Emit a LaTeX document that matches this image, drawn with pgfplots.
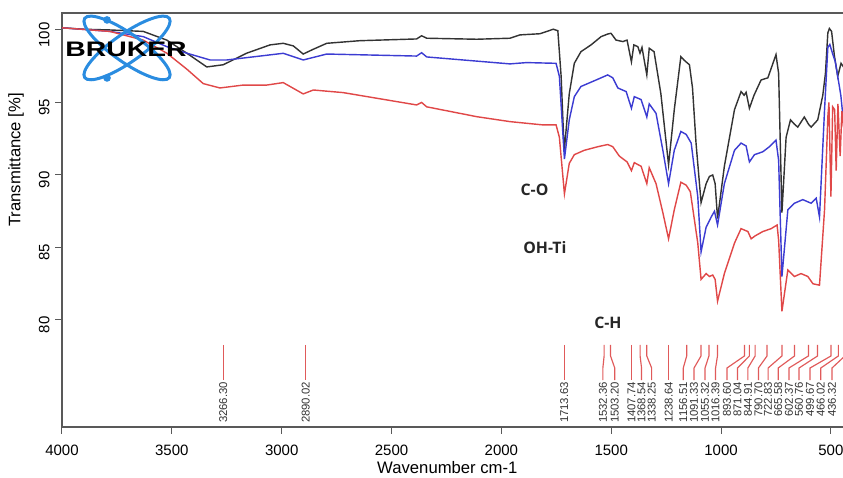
\documentclass[border=0pt]{standalone}
\usepackage{fontspec}
\setmainfont{Liberation Sans}
\newfontfamily\annfont{Open Sans}
\usepackage{pgfplots}
\usepackage{pgfplotstable}
\pgfplotsset{compat=1.18}
\usetikzlibrary{calc}

\definecolor{curveblack}{HTML}{333333}
\definecolor{curveblue}{HTML}{3C3CD2}
\definecolor{curvered}{HTML}{E04848}
\definecolor{peakred}{HTML}{E05A5A}
\definecolor{logoblue}{HTML}{2A8CE0}

% wavenumber (cm-1), transmittance (%)
\pgfplotstableread{
w T
4000 100.15
3900 100.05
3782 100.00
3630 99.90
3523 99.30
3432 98.40
3341 97.45
3266 97.60
3159 98.40
3053 98.97
2993 99.08
2947 98.90
2902 98.34
2856 98.67
2795 99.08
2644 99.26
2386 99.38
2363 99.60
2340 99.43
2112 99.36
1961 99.43
1915 99.66
1824 99.74
1764 100.05
1743 99.95
1728 96.80
1714 91.60
1691 95.60
1668 97.70
1638 98.50
1592 98.97
1546 99.54
1516 99.72
1501 99.77
1478 99.30
1447 99.20
1428 99.30
1408 97.80
1397 98.97
1379 98.85
1369 98.40
1360 98.80
1338 96.90
1327 98.74
1305 98.50
1274 95.60
1239 90.70
1213 94.50
1183 98.16
1167 97.90
1144 97.60
1130 96.00
1114 92.20
1091 88.10
1068 89.40
1053 89.90
1038 90.00
1027 89.40
1016 87.00
985 90.60
939 94.50
909 95.75
895 95.50
886 95.70
871 94.60
850 95.50
818 96.55
787 96.70
750 98.30
738 97.00
723 87.40
704 92.60
684 93.80
666 93.50
651 93.30
621 94.00
602 93.50
590 93.30
560 93.80
537 95.50
525 97.00
514 99.80
507 100.10
497 99.90
484 98.20
469 96.80
454 97.70
445 97.50
435 97.30
}\blacktable

\pgfplotstableread{
w T
4000 100.15
3782 99.90
3630 99.54
3523 98.85
3432 98.40
3326 97.93
3250 97.93
3099 98.20
2993 98.39
2902 97.93
2795 98.34
2386 98.20
2363 98.43
2340 98.14
1961 97.66
1885 97.75
1751 97.70
1736 96.80
1713 91.10
1691 93.80
1668 95.40
1638 96.10
1592 96.40
1546 96.70
1516 96.90
1493 96.70
1470 96.00
1432 95.75
1408 94.60
1395 95.40
1364 95.20
1338 94.00
1327 94.90
1296 94.25
1265 91.70
1239 89.40
1213 91.70
1183 93.00
1159 92.80
1136 92.20
1106 88.50
1091 84.70
1068 86.40
1045 87.10
1030 87.50
1016 86.55
985 89.40
939 91.70
909 92.20
886 92.00
871 90.90
848 91.40
810 91.60
780 91.95
750 92.40
738 91.00
723 83.00
696 87.60
666 88.05
628 88.30
590 88.05
567 88.40
552 87.10
529 94.50
514 98.80
505 99.00
491 98.30
480 97.80
469 96.80
455 95.50
445 94.00
435 93.50
}\bluetable

\pgfplotstableread{
w T
4000 100.15
3782 99.90
3630 99.30
3523 98.40
3432 97.30
3357 96.30
3281 96.00
3175 96.20
3068 96.20
2993 96.37
2902 95.59
2856 95.86
2720 95.68
2386 94.83
2363 95.00
2340 94.70
2112 94.02
1961 93.68
1809 93.45
1751 93.45
1736 92.60
1713 88.70
1691 90.80
1668 91.40
1623 91.70
1561 91.95
1516 92.10
1493 91.95
1463 91.30
1428 90.90
1408 90.30
1395 90.85
1364 90.60
1338 89.40
1327 90.50
1296 89.40
1265 87.40
1239 85.60
1213 87.60
1183 89.50
1159 89.30
1140 88.85
1106 85.30
1091 82.80
1068 83.20
1053 83.00
1038 83.10
1027 82.80
1016 81.30
985 83.20
939 85.30
909 86.30
878 86.10
863 85.60
845 85.80
810 86.10
772 86.30
745 86.55
738 85.50
723 80.60
696 83.45
666 83.00
636 83.20
605 83.00
582 82.50
552 82.40
529 87.60
514 94.00
509 95.00
500 88.50
492 94.70
483 94.50
476 90.30
468 94.90
458 91.30
450 94.40
440 93.00
435 93.50
}\redtable

% peak marker: peak position, label position, label text
\newcommand{\pk}[3]{%
  \addplot[peakred, line width=0.7pt, no markers] coordinates
    {(#1,78.28) (#1,77.52) (#2,76.69) (#2,75.86)}
    node[rotate=90, anchor=east, inner sep=0.8pt, text=black!80,
         font=\fontsize{6.8}{7}\selectfont] {#3};}

\begin{document}
\begin{tikzpicture}
\begin{axis}[
  scale only axis,
  width=469.9pt, height=248.4pt,
  x dir=reverse,
  xmin=435, xmax=4000,
  ymin=72.62, ymax=101.17,
  xtick={500,1000,...,4000},
  ytick={80,85,...,100},
  tick align=outside,
  major tick length=4pt,
  xtick pos=left, ytick pos=left,
  axis line style={black!65, line width=0.7pt},
  tick style={black!65, line width=0.6pt},
  /pgf/number format/assume math mode=true,
  /pgf/number format/1000 sep={},
  xticklabel style={font=\fontsize{9}{10}\selectfont, yshift=-3pt},
  yticklabel style={font=\fontsize{9}{10}\selectfont, rotate=90, anchor=south, xshift=-3pt},
  xlabel={Wavenumber cm-1},
  ylabel={Transmittance [\%]},
  xlabel style={font=\fontsize{10}{12}\selectfont, at={(axis description cs:0.492,-0.099)}, anchor=center},
  ylabel style={font=\fontsize{10}{12}\selectfont, at={(axis description cs:-0.0587,0.645)}, anchor=center},
  clip=false,
]
\addplot[curveblack, line width=0.85pt, no markers] table[x=w, y=T] {\blacktable};
\addplot[curveblue, line width=0.85pt, no markers] table[x=w, y=T] {\bluetable};
\addplot[curvered, line width=0.85pt, no markers] table[x=w, y=T] {\redtable};

\pk{3266.30}{3266.30}{3266.30}
\pk{2890.02}{2890.02}{2890.02}
\pk{1713.63}{1713.63}{1713.63}
\pk{1532.36}{1538}{1532.36}
\pk{1503.20}{1484}{1503.20}
\pk{1407.74}{1407.74}{1407.74}
\pk{1368.54}{1362}{1368.54}
\pk{1338.25}{1316}{1338.25}
\pk{1238.64}{1238.64}{1238.64}
\pk{1156.51}{1172}{1156.51}
\pk{1091.33}{1123}{1091.33}
\pk{1055.32}{1073}{1055.32}
\pk{1016.39}{1025}{1016.39}
\pk{893.60}{973}{893.60}
\pk{871.04}{925}{871.04}
\pk{844.91}{878}{844.91}
\pk{790.70}{830}{790.70}
\pk{722.83}{786}{722.83}
\pk{665.58}{740}{665.58}
\pk{602.37}{691}{602.37}
\pk{560.76}{645}{560.76}
\pk{499.67}{595}{499.67}
\pk{466.02}{546}{466.02}
\pk{436.32}{495}{436.32}

\node[font=\annfont\bfseries\fontsize{9.5}{10}\selectfont, text=black!85] at (axis cs:1849,88.97) {C-O};
\node[font=\annfont\bfseries\fontsize{9.5}{10}\selectfont, text=black!85] at (axis cs:1802,84.97) {OH-Ti};
\node[font=\annfont\bfseries\fontsize{9.5}{10}\selectfont, text=black!85] at (axis cs:1515,79.80) {C-H};

\coordinate (logo) at (axis cs:3704,98.76);
\coordinate (bl) at (rel axis cs:0,0);
\coordinate (tr) at (rel axis cs:1,1);
\end{axis}

\begin{scope}[shift={(logo)}]
  \draw[logoblue, line width=1.8pt, rotate=35] (0,0) ellipse (31pt and 8.5pt);
  \draw[logoblue, line width=1.8pt, rotate=-35] (0,0) ellipse (31pt and 8.5pt);
  \fill[logoblue] (-12pt,16.8pt) circle (2.3pt);
  \fill[logoblue] (-12pt,-18pt) circle (2.3pt);
  \node at (-0.6pt,-0.6pt) {\scalebox{1.35}[1]{\fontsize{12.6}{13}\selectfont\bfseries BRUKER}};
\end{scope}

\pgfresetboundingbox
\path[use as bounding box] ([shift={(-37.2pt,-30pt)}]bl) rectangle ([shift={(-1.32pt,7.8pt)}]tr);
\end{tikzpicture}
\end{document}
